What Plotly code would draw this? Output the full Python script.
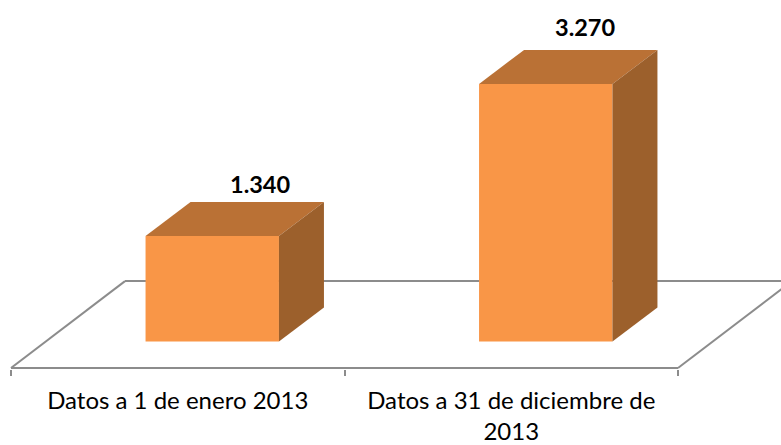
import plotly.graph_objects as go

categories = ["Datos a 1 de enero 2013", "Datos a 31 de diciembre de<br>2013"]
values = [1340, 3270]
value_labels = ["1.340", "3.270"]

# Layout (pixels in a 781x445 page)
W, H = 781, 445
PX_PER_CAT = 333.5
X_LEFT_PX = 11.0          # pixel of the left boundary of first category
Y_ZERO_PX = 342.0         # pixel of value 0 on the front plane
PX_PER_VAL = 258.0 / 3270
PLOT_BOTTOM_PX = 369.5

dx_cat = lambda px: px / PX_PER_CAT
dy_val = lambda px: px / PX_PER_VAL

x_min = -0.5 - dx_cat(X_LEFT_PX)
x_max = x_min + dx_cat(W)
y_min = -dy_val(PLOT_BOTTOM_PX - Y_ZERO_PX)
y_max = dy_val(Y_ZERO_PX)

BAR_WIDTH = 0.4
BAR_SHIFT = dx_cat(34.5)
DEPTH_X, DEPTH_Y = dx_cat(45), dy_val(34)
FLOOR_FRONT = -dy_val(26.5)
FLOOR_BACK = FLOOR_FRONT + dy_val(87)
FLOOR_DX = dx_cat(114)
LABEL_SHIFT = [(47.5, 51.5), (39.5, 57)]

FRONT, TOP, SIDE = "#F99647", "#BA7135", "#9C602C"
GREY = "#8C8C8C"
TEXT = "#000000"

xs = [i + BAR_SHIFT for i in range(len(values))]

fig = go.Figure()
fig.add_bar(x=xs, y=values, width=BAR_WIDTH, marker=dict(color=FRONT, line_width=0),
            hoverinfo="skip", showlegend=False)

for x, v in zip(xs, values):
    l, r = x - BAR_WIDTH / 2, x + BAR_WIDTH / 2
    fig.add_scatter(x=[l, r, r + DEPTH_X, l + DEPTH_X, l], y=[v, v, v + DEPTH_Y, v + DEPTH_Y, v],
                    mode="lines", fill="toself", fillcolor=TOP, line_width=0,
                    hoverinfo="skip", showlegend=False)
    fig.add_scatter(x=[r, r + DEPTH_X, r + DEPTH_X, r, r], y=[0, DEPTH_Y, v + DEPTH_Y, v, 0],
                    mode="lines", fill="toself", fillcolor=SIDE, line_width=0,
                    hoverinfo="skip", showlegend=False)

# floor, under the bars
x0, x1 = -0.5, 1.5
floor = [
    (x0, FLOOR_FRONT, x1, FLOOR_FRONT),
    (x0, FLOOR_FRONT, x0 + FLOOR_DX, FLOOR_BACK),
    (x1, FLOOR_FRONT, x1 + FLOOR_DX, FLOOR_BACK),
    (x0 + FLOOR_DX, FLOOR_BACK, x1 + FLOOR_DX, FLOOR_BACK),
]
for a, b, c, d in floor:
    fig.add_shape(type="line", x0=a, y0=b, x1=c, y1=d, layer="below",
                  line=dict(color=GREY, width=2))

for x, v, t, (sx, sy) in zip(xs, values, value_labels, LABEL_SHIFT):
    fig.add_annotation(x=x, y=v, text=f"<b>{t}</b>", showarrow=False, xshift=sx, yshift=sy,
                       font=dict(family="Lato", size=23.5, color=TEXT))

fig.update_layout(
    width=W, height=H, autosize=False,
    margin=dict(l=0, r=0, t=0, b=H - PLOT_BOTTOM_PX, pad=0, autoexpand=False),
    paper_bgcolor="white", plot_bgcolor="white", showlegend=False,
    xaxis=dict(range=[x_min, x_max], tickmode="array", tickvals=list(range(len(categories))),
               ticktext=categories, ticks="", showgrid=False, zeroline=False, showline=False,
               automargin=False,
               tickfont=dict(family="Lato", size=24, color=TEXT), ticklabelstandoff=15,
               minor=dict(tickmode="array", tickvals=[-0.5, 0.5, 1.5], ticks="outside",
                          ticklen=6, tickwidth=1.5, tickcolor=GREY, showgrid=False)),
    yaxis=dict(range=[y_min, y_max], visible=False, automargin=False),
)
fig.write_html("out.html", config=dict(displayModeBar=False),
               post_script="document.body.style.margin='0';document.documentElement.style.overflow='hidden';")
